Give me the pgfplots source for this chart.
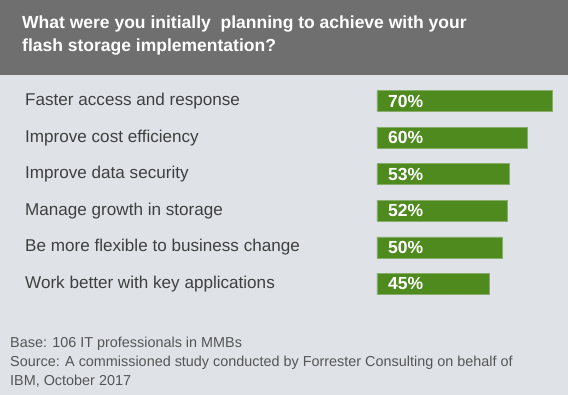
\documentclass[border=0pt]{standalone}
\usepackage{pgfplots}
\pgfplotsset{compat=1.18}
\usepackage{pgfplotstable}
\usepackage{fontspec}
\setmainfont{Liberation Sans}
\definecolor{hdr}{HTML}{6F6F6F}
\definecolor{bg}{HTML}{DFE3E8}
\definecolor{bargreen}{HTML}{4E8A1E}
\definecolor{baredge}{HTML}{86AE68}
\definecolor{lbl}{HTML}{3F3F3F}
\definecolor{foot}{HTML}{555555}
\pgfplotstableread{
y v
0 70
1 60
2 53
3 52
4 50
5 45
}\data
\begin{document}
\begin{tikzpicture}
\useasboundingbox (0pt,0pt) rectangle (568pt,395pt);
\fill[bg] (0pt,0pt) rectangle (568pt,395pt);
\fill[hdr] (0pt,320pt) rectangle (568pt,395pt);
\node[anchor=base west, inner sep=0, text=white, font=\bfseries\fontsize{17.5}{20}\selectfont] at (22pt,366pt) {What were you initially\ \ planning to achieve with your};
\node[anchor=base west, inner sep=0, text=white, font=\bfseries\fontsize{17.5}{20}\selectfont] at (22pt,343pt) {flash storage implementation?};
\node[anchor=base west, inner sep=0, text=foot, font=\fontsize{14.4}{16}\selectfont] at (10pt,47pt) {Base: 106 IT professionals in MMBs};
\node[anchor=base west, inner sep=0, text=foot, font=\fontsize{14.4}{16}\selectfont] at (10pt,28pt) {Source: A commissioned study conducted by Forrester Consulting on behalf of};
\node[anchor=base west, inner sep=0, text=foot, font=\fontsize{14.4}{16}\selectfont] at (10pt,9.5pt) {IBM, October 2017};
\begin{axis}[
  at={(377pt,92.7pt)}, anchor=south west,
  width=175pt, height=219.6pt, scale only axis,
  xmin=0, xmax=70, ymin=-0.5, ymax=5.5, y dir=reverse,
  bar width=21pt,
  axis line style={draw=none},
  xtick=\empty,
  ytick={0,1,2,3,4,5},
  yticklabels={Faster access and response, Improve cost efficiency, Improve data security, Manage growth in storage, Be more flexible to business change, Work better with key applications},
  major tick length=0pt,
  yticklabel style={anchor=west, xshift=-352pt, inner sep=0pt, text=lbl, font=\fontsize{17.1}{20}\selectfont},
  /pgf/number format/assume math mode=true,
  clip=false,
]
\addplot[xbar, fill=bargreen, draw=baredge, line width=0.5pt] table[x=v, y=y] {\data};
\addplot[draw=none, mark=none, point meta=explicit,
  nodes near coords={\pgfmathprintnumber{\pgfplotspointmeta}\%},
  nodes near coords style={anchor=west, inner sep=0pt, xshift=11pt, text=white, font=\bfseries\fontsize{17.5}{20}\selectfont}]
  table[x expr=0, y=y, meta=v] {\data};
\end{axis}
\end{tikzpicture}
\end{document}
